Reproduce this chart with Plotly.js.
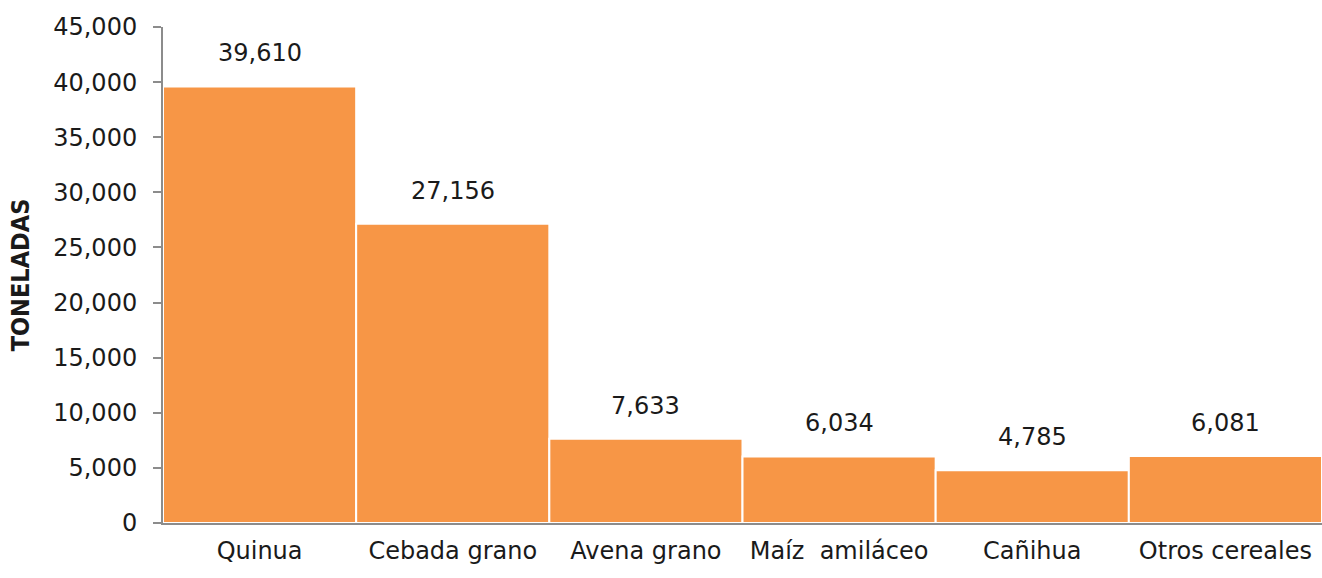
<!DOCTYPE html>
<html>
<head>
<meta charset="utf-8">
<script src="https://cdn.plot.ly/plotly-3.0.1.min.js"></script>
<style>html,body{margin:0;padding:0;background:#fff;}#chart{width:1322px;height:578px;}</style>
</head>
<body>
<div id="chart"></div>
<script>
const categories = ["Quinua", "Cebada grano", "Avena grano", "Maíz  amiláceo", "Cañihua", "Otros cereales"];
const values = [39610, 27156, 7633, 6034, 4785, 6081];
const yTickVals = [0, 5000, 10000, 15000, 20000, 25000, 30000, 35000, 40000, 45000];
const yTickText = ["0", "5,000", "10,000", "15,000", "20,000", "25,000", "30,000", "35,000", "40,000", "45,000"];
const yTitle = "TONELADAS";

const fontFam = "DejaVu Sans, sans-serif";
const fmt = v => v.toLocaleString("en-US");

const trace = {
  type: "bar",
  x: categories,
  y: values,
  marker: {color: "#F79646", line: {color: "#FFFFFF", width: 2}},
  hoverinfo: "none"
};

const annotations = categories.map((c, i) => ({
  x: c, y: values[i], xref: "x", yref: "y",
  text: fmt(values[i]), showarrow: false,
  yanchor: "bottom", yshift: 17,
  font: {family: fontFam, size: 24, color: "#1a1a1a"}
}));

const layout = {
  width: 1322, height: 578,
  margin: {l: 163, r: 0, t: 27, b: 55},
  paper_bgcolor: "#fff", plot_bgcolor: "#fff",
  showlegend: false,
  bargap: 0.0,
  xaxis: {
    type: "category",
    showline: true, linecolor: "#8c8c8c", linewidth: 2,
    ticks: "", showgrid: false, zeroline: false,
    tickfont: {family: fontFam, size: 24, color: "#1a1a1a"},
    ticklabelstandoff: 5
  },
  yaxis: {
    range: [0, 45000],
    tickvals: yTickVals, ticktext: yTickText,
    showline: true, linecolor: "#8c8c8c", linewidth: 2,
    ticks: "outside", ticklen: 8, tickcolor: "#8c8c8c", tickwidth: 2,
    showgrid: false, zeroline: false,
    tickfont: {family: fontFam, size: 24, color: "#1a1a1a"},
    ticklabelstandoff: 11,
    title: {text: "<b>" + yTitle + "</b>", font: {family: "DejaVu Sans Condensed, DejaVu Sans, sans-serif", size: 25, color: "#1a1a1a"}, standoff: 16}
  },
  annotations: annotations
};

Plotly.newPlot("chart", [trace], layout, {displayModeBar: false, staticPlot: true});
</script>
</body>
</html>
